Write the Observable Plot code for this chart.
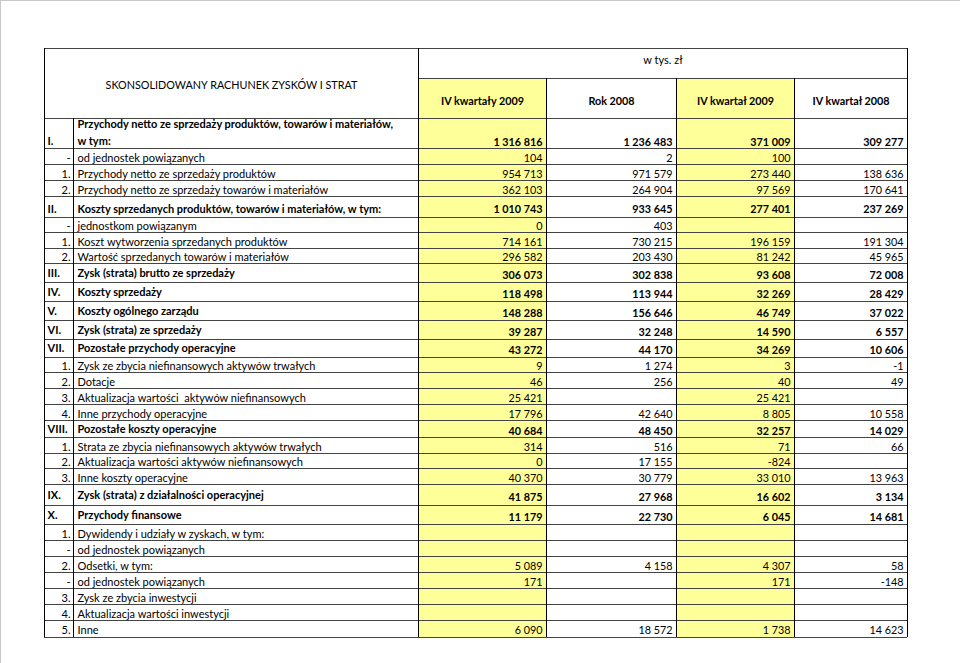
<!DOCTYPE html>
<html><head><meta charset="utf-8">
<script src="https://cdn.jsdelivr.net/npm/d3@7"></script>
<script src="https://cdn.jsdelivr.net/npm/@observablehq/plot@0.6"></script>
<style>body{margin:0;background:#fff}svg{display:block}</style>
</head><body><div id="chart"></div>
<script>
// ---------- data ----------
const title = "SKONSOLIDOWANY RACHUNEK ZYSKÓW I STRAT";
const unitLabel = "w tys. zł";
const columnHeaders = ["IV kwartały 2009", "Rok 2008", "IV kwartał 2009", "IV kwartał 2008"];
const rowNumbers = ["I.", "-", "1.", "2.", "II.", "-", "1.", "2.", "III.", "IV.", "V.", "VI.", "VII.", "1.", "2.", "3.", "4.", "VIII.", "1.", "2.", "3.", "IX.", "X.", "1.", "-", "2.", "-", "3.", "4.", "5."];
const rowLabels = [
  "Przychody netto ze sprzedaży produktów, towarów i materiałów,\nw tym:",
  "od jednostek powiązanych",
  "Przychody netto ze sprzedaży produktów",
  "Przychody netto ze sprzedaży towarów i materiałów",
  "Koszty sprzedanych produktów, towarów i materiałów, w tym:",
  "jednostkom powiązanym",
  "Koszt wytworzenia sprzedanych produktów",
  "Wartość sprzedanych towarów i materiałów",
  "Zysk (strata) brutto ze sprzedaży",
  "Koszty sprzedaży",
  "Koszty ogólnego zarządu",
  "Zysk (strata) ze sprzedaży",
  "Pozostałe przychody operacyjne",
  "Zysk ze zbycia niefinansowych aktywów trwałych",
  "Dotacje",
  "Aktualizacja wartości  aktywów niefinansowych",
  "Inne przychody operacyjne",
  "Pozostałe koszty operacyjne",
  "Strata ze zbycia niefinansowych aktywów trwałych",
  "Aktualizacja wartości aktywów niefinansowych",
  "Inne koszty operacyjne",
  "Zysk (strata) z działalności operacyjnej",
  "Przychody finansowe",
  "Dywidendy i udziały w zyskach, w tym:",
  "od jednostek powiązanych",
  "Odsetki, w tym:",
  "od jednostek powiązanych",
  "Zysk ze zbycia inwestycji",
  "Aktualizacja wartości inwestycji",
  "Inne"
];
const boldRows = [1,0,0,0,1,0,0,0,1,1,1,1,1,0,0,0,0,1,0,0,0,1,1,0,0,0,0,0,0,0];
const ivKwartaly2009 = [1316816, 104, 954713, 362103, 1010743, 0, 714161, 296582, 306073, 118498, 148288, 39287, 43272, 9, 46, 25421, 17796, 40684, 314, 0, 40370, 41875, 11179, null, null, 5089, 171, null, null, 6090];
const rok2008 = [1236483, 2, 971579, 264904, 933645, 403, 730215, 203430, 302838, 113944, 156646, 32248, 44170, 1274, 256, null, 42640, 48450, 516, 17155, 30779, 27968, 22730, null, null, 4158, null, null, null, 18572];
const ivKwartal2009 = [371009, 100, 273440, 97569, 277401, null, 196159, 81242, 93608, 32269, 46749, 14590, 34269, 3, 40, 25421, 8805, 32257, 71, -824, 33010, 16602, 6045, null, null, 4307, 171, null, null, 1738];
const ivKwartal2008 = [309277, null, 138636, 170641, 237269, null, 191304, 45965, 72008, 28429, 37022, 6557, 10606, -1, 49, null, 10558, 14029, 66, null, 13963, 3134, 14681, null, null, 58, -148, null, null, 14623];
const valueSeries = [ivKwartaly2009, rok2008, ivKwartal2009, ivKwartal2008];
const highlightedColumns = [0, 2];

// ---------- layout ----------
const W = 960, H = 663;
const FONT = "Lato, 'Open Sans', sans-serif";
const FS = 10.8, FS_LABEL = 11;
const colEdges = [44, 73, 418, 546, 676, 794, 907];
const tableTop = 48, unitBottom = 78, headerBottom = 118;
const rowHeights = [30,16,16,16,21,15,16,15,19,19,19,19,18,15,16,16,16,17,16,15,16,21,19,16,16,16,16,16,16,17];
const rowBounds = [headerBottom];
rowHeights.forEach(h => rowBounds.push(rowBounds[rowBounds.length - 1] + h));
const tableBottom = rowBounds[rowBounds.length - 1];

const fmt = d3.formatLocale({decimal: ",", thousands: "\u00a0", grouping: [3], currency: ["", ""], minus: "-"}).format(",d");
const isRoman = s => /^[IVX]+\.$/.test(s);

const cells = [];
rowNumbers.forEach((n, i) => {
  const top = rowBounds[i], bottom = rowBounds[i + 1];
  const bold = !!boldRows[i];
  const multi = rowLabels[i].includes("\n");
  const yv = multi ? bottom - 8 : (top + bottom) / 2 + (bold ? 0.5 : 0);
  const yl = multi ? (top + bottom) / 2 - 2.5 : (bold && i !== 4 ? (top + bottom) / 2 - 1.5 : yv);
  const yn = multi ? bottom - 9 : yl;
  cells.push({text: n, x: isRoman(n) ? colEdges[0] + 3 : colEdges[1] - 3, y: yn, anchor: isRoman(n) ? "start" : "end", bold, size: FS_LABEL});
  cells.push({text: rowLabels[i], x: colEdges[1] + 4, y: yl, anchor: "start", bold, size: FS_LABEL});
  valueSeries.forEach((s, j) => {
    if (s[i] != null) cells.push({text: fmt(s[i]), x: colEdges[3 + j] - 4, y: yv, anchor: "end", bold, size: FS});
  });
});
columnHeaders.forEach((h, j) => cells.push({text: h, x: (colEdges[2 + j] + colEdges[3 + j]) / 2, y: (unitBottom + headerBottom) / 2 + 1, anchor: "middle", bold: true, size: FS}));
cells.push({text: title, x: (colEdges[0] + colEdges[2]) / 2, y: (tableTop + headerBottom) / 2, anchor: "middle", bold: false, size: FS});
cells.push({text: unitLabel, x: (colEdges[2] + colEdges[6]) / 2, y: tableTop + 10, anchor: "middle", bold: false, size: FS_LABEL});

const hLines = [
  {y: tableTop, x1: colEdges[0], x2: colEdges[6]},
  {y: unitBottom, x1: colEdges[2], x2: colEdges[6]},
  ...rowBounds.map(y => ({y, x1: colEdges[0], x2: colEdges[6]}))
];
const vLines = [
  {x: colEdges[0], y1: tableTop, y2: tableBottom},
  {x: colEdges[1], y1: headerBottom, y2: tableBottom},
  {x: colEdges[2], y1: tableTop, y2: tableBottom},
  {x: colEdges[3], y1: unitBottom, y2: tableBottom},
  {x: colEdges[4], y1: unitBottom, y2: tableBottom},
  {x: colEdges[5], y1: unitBottom, y2: tableBottom},
  {x: colEdges[6], y1: tableTop, y2: tableBottom}
];

const marks = [
  Plot.frame({stroke: "#c8c8c8"}),
  Plot.rect(highlightedColumns, {x1: j => colEdges[2 + j], x2: j => colEdges[3 + j], y1: () => unitBottom, y2: () => tableBottom, fill: "#ffff99"}),
  Plot.ruleY(hLines, {y: "y", x1: "x1", x2: "x2", stroke: "#444", strokeWidth: 1}),
  Plot.ruleX(vLines, {x: "x", y1: "y1", y2: "y2", stroke: "#000", strokeWidth: 1})
];
for (const anchor of ["start", "end", "middle"])
  for (const bold of [true, false])
    for (const size of [FS, FS_LABEL]) {
      const sub = cells.filter(c => c.anchor === anchor && c.bold === bold && c.size === size);
      if (sub.length) marks.push(Plot.text(sub, {
        x: "x", y: "y", text: "text", textAnchor: anchor, lineAnchor: "middle",
        fontFamily: FONT, fontSize: size, fontWeight: bold ? "bold" : "normal",
        fill: "#000", lineHeight: 1.55
      }));
    }

const chart = Plot.plot({
  width: W, height: H, margin: 0,
  x: {type: "linear", domain: [0, W], range: [0, W], axis: null},
  y: {type: "linear", domain: [0, H], range: [0, H], axis: null},
  style: {background: "#fff", fontFamily: FONT},
  marks
});
document.getElementById("chart").appendChild(chart);
</script>
</body></html>
